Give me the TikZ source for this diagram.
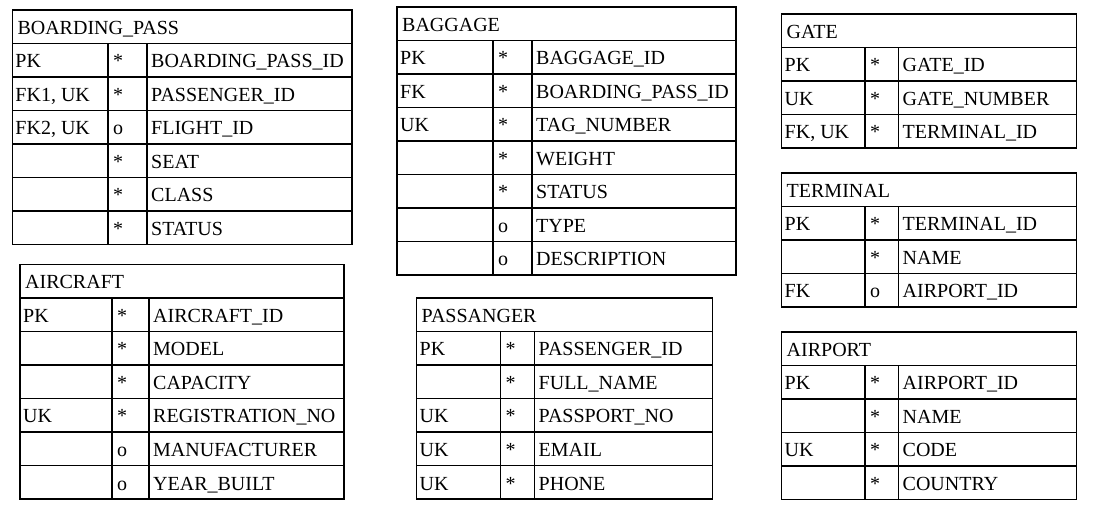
\documentclass[tikz,border=0pt]{standalone}
\usepackage{fontspec}
\setmainfont{Liberation Serif}
\tikzset{
  gridline/.style={line width=1.5pt, draw=black},
  celltext/.style={anchor=base west, inner sep=0pt, font=\fontsize{20}{24}\selectfont},
}
% #1 name, #2 x0, #3 x1, #4 x2, #5 x3, #6 top, #7 title, #8 rows
\newcommand\ertab[8]{%
  \draw[gridline] (#2,#6) rectangle (#5,#6+33.5);
  \node[celltext] (#1-title) at (#2+5,#6+24.5) {#7};
  \foreach [count=\i] \k/\m/\f in {#8} {
    \pgfmathsetmacro\yt{#6+\i*33.5}
    \draw[gridline] (#2,\yt) rectangle (#3,\yt+33.5);
    \draw[gridline] (#3,\yt) rectangle (#4,\yt+33.5);
    \draw[gridline] (#4,\yt) rectangle (#5,\yt+33.5);
    \node[celltext] (#1-k\i) at (#2+3,\yt+24.5) {\k};
    \node[celltext] (#1-m\i) at (#3+5,\yt+24.5) {\m};
    \node[celltext] (#1-f\i) at (#4+4,\yt+24.5) {\f};
  }}
\begin{document}
\begin{tikzpicture}[x=1pt,y=-1pt]
\fill[white] (0,0) rectangle (1093,510);
\useasboundingbox (0,0) rectangle (1093,510);

\ertab{bp}{12.3}{108}{147}{352}{10}{BOARDING\_PASS}{PK/*/BOARDING\_PASS\_ID, {FK1, UK}/*/PASSENGER\_ID, {FK2, UK}/o/FLIGHT\_ID, /*/SEAT, /*/CLASS, /*/STATUS}

\ertab{bag}{397}{493}{532}{736}{7}{BAGGAGE}{PK/*/BAGGAGE\_ID, FK/*/BOARDING\_PASS\_ID, UK/*/TAG\_NUMBER, /*/WEIGHT, /*/STATUS, /o/TYPE, /o/DESCRIPTION}

\ertab{gate}{781.5}{865}{898.5}{1076.5}{14}{GATE}{PK/*/GATE\_ID, UK/*/GATE\_NUMBER, {FK, UK}/*/TERMINAL\_ID}

\ertab{term}{781.5}{865}{898.5}{1076.5}{173}{TERMINAL}{PK/*/TERMINAL\_ID, /*/NAME, FK/o/AIRPORT\_ID}

\ertab{apt}{781.5}{865}{898.5}{1076.5}{332}{AIRPORT}{PK/*/AIRPORT\_ID, /*/NAME, UK/*/CODE, /*/COUNTRY}

\ertab{ac}{20}{112}{149}{344}{264.5}{AIRCRAFT}{PK/*/AIRCRAFT\_ID, /*/MODEL, /*/CAPACITY, UK/*/REGISTRATION\_NO, /o/MANUFACTURER, /o/YEAR\_BUILT}

\ertab{pas}{416.5}{500.5}{534.5}{712.5}{298}{PASSANGER}{PK/*/PASSENGER\_ID, /*/FULL\_NAME, UK/*/PASSPORT\_NO, UK/*/EMAIL, UK/*/PHONE}
\end{tikzpicture}
\end{document}
